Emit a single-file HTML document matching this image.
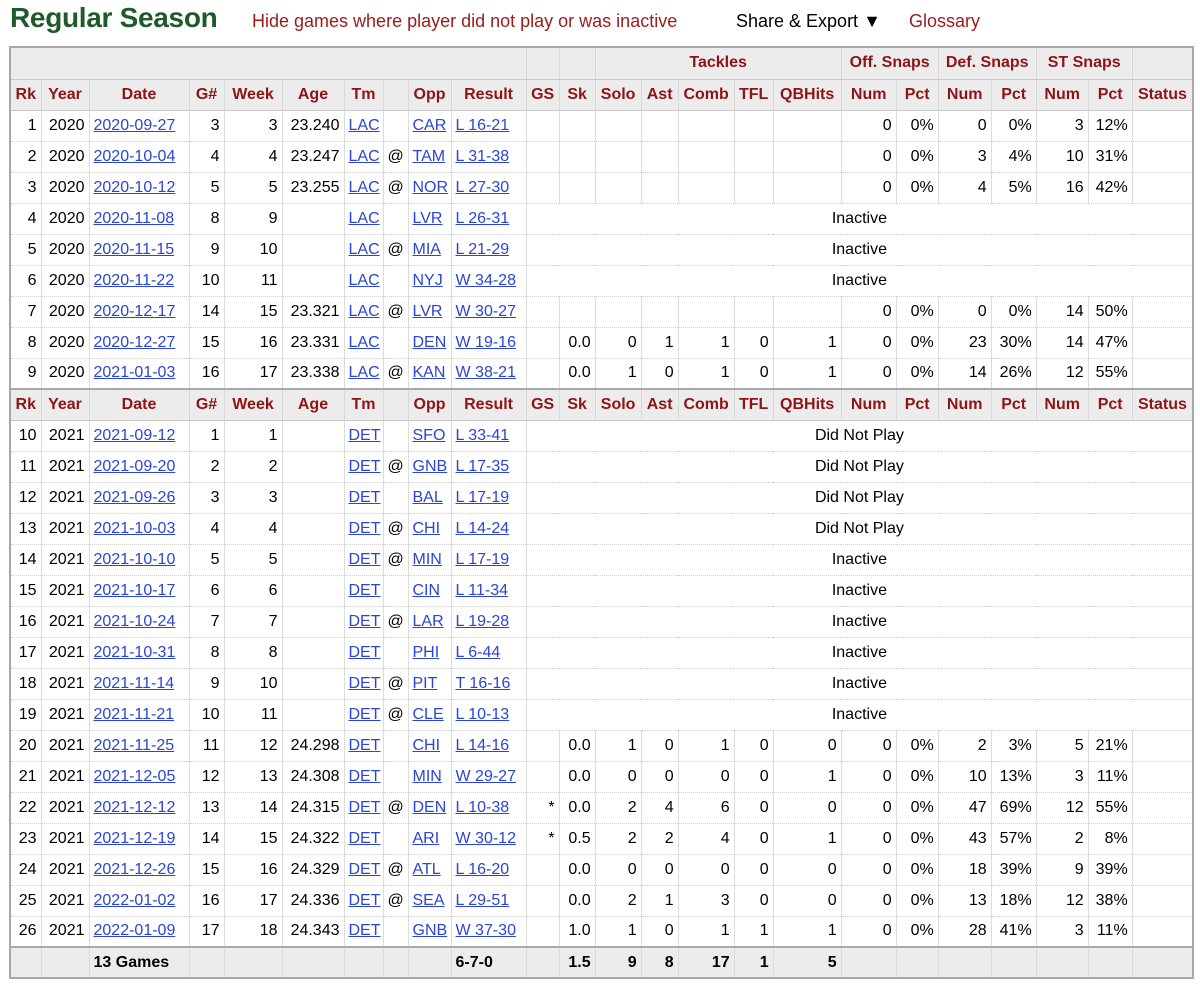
<!DOCTYPE html>
<html><head><meta charset="utf-8"><style>
*{box-sizing:border-box}
body{margin:0;background:#fff;font-family:"Liberation Sans",Arial,sans-serif;width:1200px;height:985px;overflow:hidden;position:relative}
#topbar{position:absolute;left:0;top:0;width:1200px;height:44px}
#title{position:absolute;left:10px;top:2px;font-size:28px;font-weight:bold;color:#1f5a2d;letter-spacing:-0.3px}
.toplink{position:absolute;top:11px;font-size:18px;color:#9b1b1b}
#share{color:#000}
table{position:absolute;left:9px;top:46px;width:1183px;border-collapse:collapse;table-layout:fixed;border:2px solid #a8a8a8;font-size:16px}
td,th{height:31px;padding:0 4px;white-space:nowrap;overflow:hidden;border-left:1px solid #dcdcdc;border-bottom:1px dotted #d0d0d0}
th{background:#ececec;color:#8f1414;font-weight:bold;text-align:center;border-bottom:1px solid #c8c8c8;border-left:1px solid #d8d8d8}
tr.over th{height:32px}
tr.sep th{border-top:2px solid #a8a8a8}
td.r{text-align:right}td.l{text-align:left}td.c{text-align:center}
a{color:#2a44d8;text-decoration:underline}
tr.tot td{background:#ececec;font-weight:bold;border-top:2px solid #a8a8a8}
</style></head><body>
<div id="topbar">
<div id="title">Regular Season</div>
<div class="toplink" style="left:252px">Hide games where player did not play or was inactive</div>
<div class="toplink" id="share" style="left:736px">Share &amp; Export ▼</div>
<div class="toplink" style="left:909px">Glossary</div>
</div>
<table id="gl">
<colgroup><col style="width:31px"><col style="width:48px"><col style="width:100px"><col style="width:35px"><col style="width:58px"><col style="width:62px"><col style="width:39px"><col style="width:25px"><col style="width:43px"><col style="width:75px"><col style="width:33px"><col style="width:36px"><col style="width:46px"><col style="width:37px"><col style="width:56px"><col style="width:39px"><col style="width:68px"><col style="width:55px"><col style="width:42px"><col style="width:53px"><col style="width:45px"><col style="width:52px"><col style="width:44px"><col style="width:61px"></colgroup>
<tbody id="tb"></tbody></table>
<script>
const headers=["Rk","Year","Date","G#","Week","Age","Tm","","Opp","Result","GS","Sk","Solo","Ast","Comb","TFL","QBHits","Num","Pct","Num","Pct","Num","Pct","Status"];
const rows=[
[1,2020,"2020-09-27",3,3,"23.240","LAC","","CAR","L 16-21","","","","","","","","0","0%","0","0%","3","12%"],
[2,2020,"2020-10-04",4,4,"23.247","LAC","@","TAM","L 31-38","","","","","","","","0","0%","3","4%","10","31%"],
[3,2020,"2020-10-12",5,5,"23.255","LAC","@","NOR","L 27-30","","","","","","","","0","0%","4","5%","16","42%"],
[4,2020,"2020-11-08",8,9,"","LAC","","LVR","L 26-31","Inactive"],
[5,2020,"2020-11-15",9,10,"","LAC","@","MIA","L 21-29","Inactive"],
[6,2020,"2020-11-22",10,11,"","LAC","","NYJ","W 34-28","Inactive"],
[7,2020,"2020-12-17",14,15,"23.321","LAC","@","LVR","W 30-27","","","","","","","","0","0%","0","0%","14","50%"],
[8,2020,"2020-12-27",15,16,"23.331","LAC","","DEN","W 19-16","","0.0","0","1","1","0","1","0","0%","23","30%","14","47%"],
[9,2020,"2021-01-03",16,17,"23.338","LAC","@","KAN","W 38-21","","0.0","1","0","1","0","1","0","0%","14","26%","12","55%"],
"H",
[10,2021,"2021-09-12",1,1,"","DET","","SFO","L 33-41","Did Not Play"],
[11,2021,"2021-09-20",2,2,"","DET","@","GNB","L 17-35","Did Not Play"],
[12,2021,"2021-09-26",3,3,"","DET","","BAL","L 17-19","Did Not Play"],
[13,2021,"2021-10-03",4,4,"","DET","@","CHI","L 14-24","Did Not Play"],
[14,2021,"2021-10-10",5,5,"","DET","@","MIN","L 17-19","Inactive"],
[15,2021,"2021-10-17",6,6,"","DET","","CIN","L 11-34","Inactive"],
[16,2021,"2021-10-24",7,7,"","DET","@","LAR","L 19-28","Inactive"],
[17,2021,"2021-10-31",8,8,"","DET","","PHI","L 6-44","Inactive"],
[18,2021,"2021-11-14",9,10,"","DET","@","PIT","T 16-16","Inactive"],
[19,2021,"2021-11-21",10,11,"","DET","@","CLE","L 10-13","Inactive"],
[20,2021,"2021-11-25",11,12,"24.298","DET","","CHI","L 14-16","","0.0","1","0","1","0","0","0","0%","2","3%","5","21%"],
[21,2021,"2021-12-05",12,13,"24.308","DET","","MIN","W 29-27","","0.0","0","0","0","0","1","0","0%","10","13%","3","11%"],
[22,2021,"2021-12-12",13,14,"24.315","DET","@","DEN","L 10-38","*","0.0","2","4","6","0","0","0","0%","47","69%","12","55%"],
[23,2021,"2021-12-19",14,15,"24.322","DET","","ARI","W 30-12","*","0.5","2","2","4","0","1","0","0%","43","57%","2","8%"],
[24,2021,"2021-12-26",15,16,"24.329","DET","@","ATL","L 16-20","","0.0","0","0","0","0","0","0","0%","18","39%","9","39%"],
[25,2021,"2022-01-02",16,17,"24.336","DET","@","SEA","L 29-51","","0.0","2","1","3","0","0","0","0%","13","18%","12","38%"],
[26,2021,"2022-01-09",17,18,"24.343","DET","","GNB","W 37-30","","1.0","1","0","1","1","1","0","0%","28","41%","3","11%"]
];
const totals=["","","13 Games","","","","","","","6-7-0","","1.5","9","8","17","1","5","","","","","","",""];
const tb=document.getElementById('tb');
function mk(tag,txt,cls){const e=document.createElement(tag);if(txt!==undefined)e.textContent=txt;if(cls)e.className=cls;return e;}
// over header
let tr=mk('tr');tr.className='over';


[["",10],["",1],["",1],["Tackles",5],["Off. Snaps",2],["Def. Snaps",2],["ST Snaps",2],["",1]].forEach(g=>{const th=mk('th',g[0]);th.colSpan=g[1];


tr.appendChild(th);});
tb.appendChild(tr);
function hdr(sep){const r=mk('tr');if(sep)r.className='sep';


headers.forEach(h=>{const th=mk('th',h);


r.appendChild(th);});tb.appendChild(r);}
hdr(false);
const linkCols=[2,6,8,9];
const leftCols=[2,6,7,8,9];
rows.forEach(row=>{
 if(row==="H"){hdr(true);return;}
 const r=mk('tr');
 
 
 const n=row.length===11?10:row.length;
 for(let i=0;i<n;i++){
  const td=mk('td',undefined,leftCols.includes(i)?'l':'r');
  if(i===7)td.className='c';
  if(linkCols.includes(i)&&row[i]!==""){const a=mk('a',row[i]);
   
   
   td.appendChild(a);}
  else td.textContent=row[i];
  
  
  r.appendChild(td);
 }
 if(row.length===11){const td=mk('td',row[10],'c');td.colSpan=14;
  
  
  r.appendChild(td);}
 else{const td=mk('td','');
  
  
  r.appendChild(td);}
 tb.appendChild(r);
});
const tr2=mk('tr');tr2.className='tot';


totals.forEach((v,i)=>{const td=mk('td',v,(i===2||i===9)?'l':'r');
 
 
 tr2.appendChild(td);});
tb.appendChild(tr2);
</script>
</body></html>
